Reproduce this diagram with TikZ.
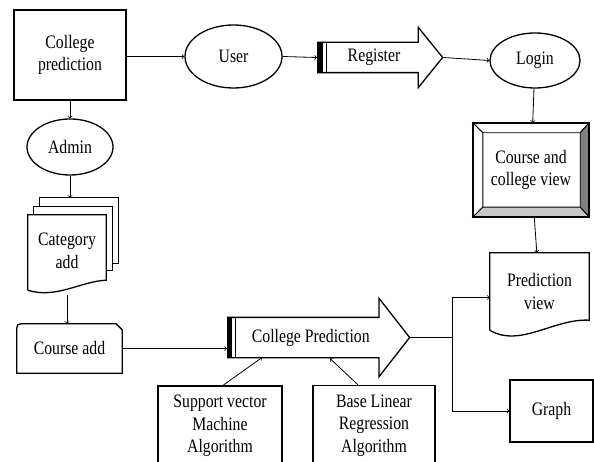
\documentclass[tikz,border=0pt]{standalone}
\usepackage{fontspec}
\setmainfont{Liberation Serif}[FakeStretch=0.83]
\usetikzlibrary{shapes.geometric,shapes.arrows}

\begin{document}
\begin{tikzpicture}[x=1pt,y=-1pt,
    font=\fontsize{19}{22.5}\selectfont,
    box/.style={draw,line width=1.3pt,align=center,inner sep=2pt},
    oval/.style={draw,ellipse,line width=1.3pt,inner sep=1pt},
    bigarrow/.style={draw,single arrow,line width=1.3pt,text height=13pt,text depth=4pt,inner xsep=4pt,anchor=tail},
    shape line/.style={line width=1.3pt},
    bevel/.style={draw,line width=0.9pt},
    link/.style={->,>=to,line width=0.8pt}]
  \useasboundingbox (0,0) rectangle (594,462);
  \clip (0,0) rectangle (594,462);
  \node[box,minimum width=112,minimum height=90] (cp) at (70,55) {College\\prediction};
  \node[oval,minimum width=97,minimum height=63] (user) at (233.5,56.5) {User};
  \node[bigarrow,inner ysep=6pt,single arrow head extend=15pt,single arrow tip angle=102,minimum height=125pt] (reg) at (317,57.5) {Register};
  \node[oval,minimum width=90,minimum height=55] (login) at (535,60.5) {Login};
  \node[oval,minimum width=86,minimum height=56] (admin) at (70,147) {Admin};
  \node[minimum width=116,minimum height=94,align=center] (cv) at (531,170) {Course and\\college view};
  \node[minimum width=78,minimum height=72,align=center] (cat) at (67,251) {Category\\add};
  \node[minimum width=99,minimum height=77,align=center] (pv) at (539.5,291.5) {Prediction\\view};
  \node[minimum width=105,minimum height=49] (ca) at (69.5,348.5) {Course add};
  \node[bigarrow,inner ysep=11pt,single arrow head extend=19pt,single arrow tip angle=104,minimum height=182pt] (cpa) at (227,337.5) {College Prediction};
  \node[box,minimum width=124,minimum height=80] (svm) at (220,426) {Support vector\\Machine\\Algorithm};
  \node[box,minimum width=122,minimum height=80] (blr) at (374,425.5) {Base Linear\\Regression\\Algorithm};
  \node[box,minimum width=83,minimum height=62] (gr) at (551.5,411) {Graph};

  \fill (reg.before tail) rectangle ([shift={(6,0)}]reg.after tail);
  \draw[line width=1pt] ([shift={(9,0)}]reg.before tail) -- ([shift={(9,0)}]reg.after tail);
  \fill (cpa.before tail) rectangle ([shift={(5,0)}]cpa.after tail);
  \draw[line width=1pt] ([shift={(8,0)}]cpa.before tail) -- ([shift={(8,0)}]cpa.after tail);

  \path[bevel,fill=white] (cv.north west) -- (cv.north east) -- ([shift={(-9,10)}]cv.north east) -- ([shift={(10,10)}]cv.north west) -- cycle;
  \path[bevel,fill=white] (cv.north west) -- ([shift={(10,10)}]cv.north west) -- ([shift={(10,-10)}]cv.south west) -- (cv.south west) -- cycle;
  \path[bevel,fill=black!50] (cv.north east) -- (cv.south east) -- ([shift={(-9,-10)}]cv.south east) -- ([shift={(-9,10)}]cv.north east) -- cycle;
  \path[bevel,fill=black!22] (cv.south west) -- (cv.south east) -- ([shift={(-9,-10)}]cv.south east) -- ([shift={(10,-10)}]cv.south west) -- cycle;
  \draw[line width=1.8pt] (cv.north west) rectangle (cv.south east);

  \draw[shape line] ([shift={(0,3)}]cat.south west) -- (cat.north west) -- (cat.north east) -- ([shift={(0,-7)}]cat.south east)
    .. controls ([shift={(-25,-6)}]cat.south east) and ([shift={(28,12)}]cat.south west) .. ([shift={(0,3)}]cat.south west);
  \draw[shape line] ([shift={(6,0)}]cat.north west) -- ([shift={(6,-8)}]cat.north west) -| ([shift={(6,-17)}]cat.south east) -- ([shift={(0,-17)}]cat.south east);
  \draw[shape line] ([shift={(12,-8)}]cat.north west) -- ([shift={(12,-17)}]cat.north west) -| ([shift={(12,-24)}]cat.south east) -- ([shift={(6,-24)}]cat.south east);

  \draw[shape line] (pv.south west) -- (pv.north west) -- (pv.north east) -- ([shift={(0,-10)}]pv.south east)
    .. controls ([shift={(-35,-12)}]pv.south east) and ([shift={(30,18)}]pv.south west) .. (pv.south west);

  \draw[shape line] (ca.south west) -- ([shift={(0,8)}]ca.north west) .. controls (ca.north west) .. ([shift={(8,0)}]ca.north west)
    -- ([shift={(-6,0)}]ca.north east) -- ([shift={(0,6)}]ca.north east) -- (ca.south east) -- cycle;

  \coordinate (jn) at ([shift={(42,0)}]cpa.tip);
  \draw[link] (cp.east |- user.west) -- (user.west);
  \draw[link] (user.east) -- (reg.tail);
  \draw[link] (reg.tip) -- (login.west);
  \draw[link] (login) -- (cv);
  \draw[link] (cv) -- (pv);
  \draw[link] (cp) -- (admin);
  \draw[link] (admin) -- ([shift={(3,-17)}]cat.north);
  \draw[link] ([shift={(0,8)}]cat.south) -- (cat.south |- ca.north);
  \draw[link] (ca.east) -- (ca.east -| cpa.tail);
  \draw[link] ([shift={(3,0)}]svm.north) -- ([shift={(35,20)}]cpa.tail);
  \draw[link] ([shift={(-16,0)}]blr.north) -- ([shift={(103,21)}]cpa.tail);
  \draw[link] (cpa.tip) -- (jn) |- ([shift={(0,6)}]pv.west);
  \draw[link] (jn) |- (gr.west);
\end{tikzpicture}
\end{document}
